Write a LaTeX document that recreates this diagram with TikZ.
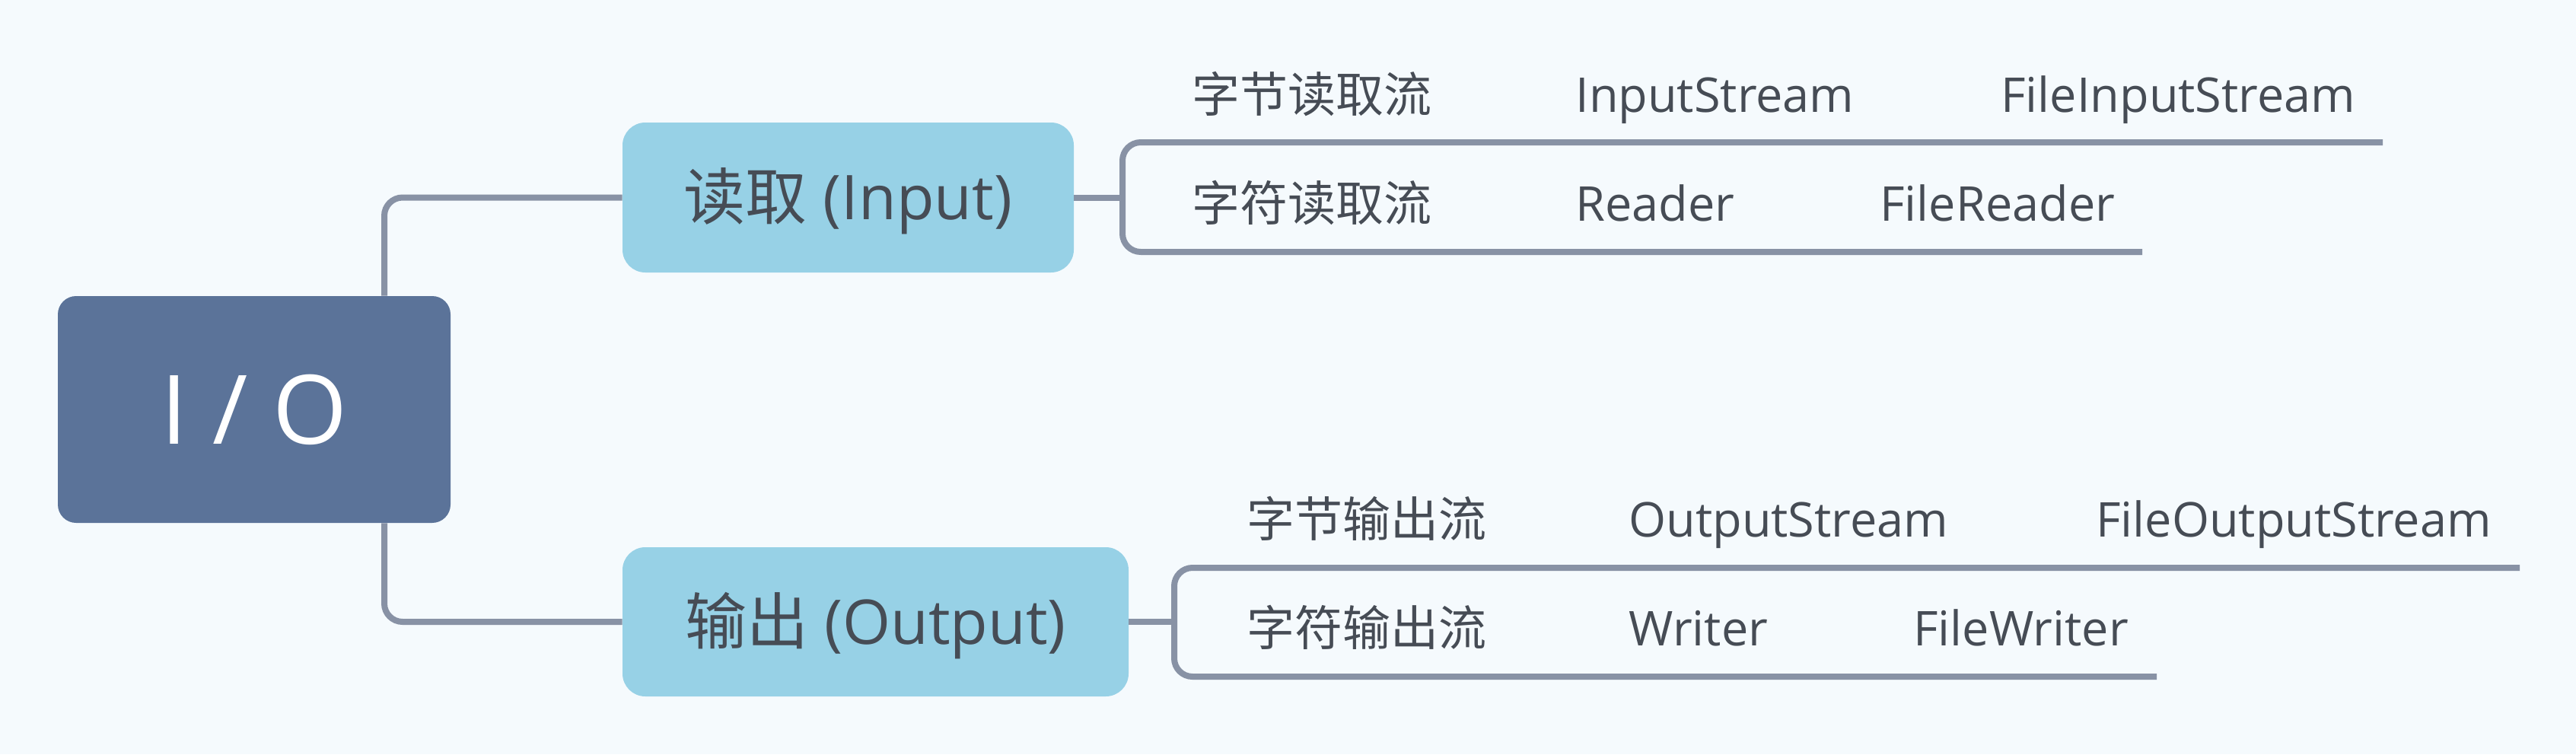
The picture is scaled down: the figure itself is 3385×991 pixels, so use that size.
\documentclass[tikz,border=0pt]{standalone}
\usepackage{fontspec}
\setmainfont{Open Sans}
\newfontfamily\cjk{Noto Sans CJK SC}
\definecolor{bgc}{HTML}{F5FAFD}
\definecolor{iofill}{HTML}{5B7399}
\definecolor{subfill}{HTML}{97D1E6}
\definecolor{linec}{HTML}{8892A5}
\definecolor{txtc}{HTML}{464C55}
\tikzset{
  conn/.style={draw=linec, line width=4pt, rounded corners=12pt},
  iobox/.style={fill=iofill, rounded corners=12pt, inner sep=0pt, text=white,
    font=\fontsize{63pt}{63pt}\selectfont, text height=45pt, text depth=0pt},
  subbox/.style={fill=subfill, rounded corners=15pt, inner sep=0pt, text=txtc,
    font=\fontsize{40.5pt}{40.5pt}\selectfont, text height=29pt, text depth=0pt},
  lbl/.style={inner sep=0pt, anchor=base west, text=txtc, font=\fontsize{31.5pt}{31.5pt}\selectfont}
}
\begin{document}
\begin{tikzpicture}[x=0.5pt,y=-0.5pt]
\fill[bgc] (0,0) rectangle (3385,991);
\useasboundingbox (0,0) rectangle (3385,991);

% main nodes
\node[iobox, minimum width=258pt, minimum height=149pt] (io) at (334,538) {I / O};
\node[subbox, minimum width=296.5pt, minimum height=98.5pt] (inp) at (1114.5,259.5) {{\cjk 读取} (Input)};
\node[subbox, minimum width=332.5pt, minimum height=98pt] (out) at (1150.5,817) {{\cjk 输出} (Output)};

% trunk connectors
\coordinate (j1) at (505,0);
\draw[conn] (j1 |- io.north) |- (inp.west);
\draw[conn] (j1 |- io.south) |- (out.west);

% input bracket
\coordinate (b1) at (1475,0);
\coordinate (t1) at (3131,187);
\coordinate (u1) at (2815,331);
\draw[conn, rounded corners=0pt] (inp.east) -- (b1 |- inp.east);
\draw[conn] (t1) -| (b1 |- u1) -- (u1);

% output bracket
\coordinate (b2) at (1543,0);
\coordinate (t2) at (3311,746);
\coordinate (u2) at (2834,889);
\draw[conn, rounded corners=0pt] (out.east) -- (b2 |- out.east);
\draw[conn] (t2) -| (b2 |- u2) -- (u2);

% input labels
\node[lbl] (ia1) at (1566,147) {\cjk 字节读取流};
\node[lbl] (ia2) at (2070,147) {InputStream};
\node[lbl] (ia3) at (2629,147) {FileInputStream};
\node[lbl] (ib1) at (1566,290) {\cjk 字符读取流};
\node[lbl] (ib2) at (2070,290) {Reader};
\node[lbl] (ib3) at (2470,290) {FileReader};

% output labels
\node[lbl] (oa1) at (1638,705) {\cjk 字节输出流};
\node[lbl] (oa2) at (2140,705) {OutputStream};
\node[lbl] (oa3) at (2754,705) {FileOutputStream};
\node[lbl] (ob1) at (1638,848) {\cjk 字符输出流};
\node[lbl] (ob2) at (2140,848) {Writer};
\node[lbl] (ob3) at (2514,848) {FileWriter};
\end{tikzpicture}
\end{document}
